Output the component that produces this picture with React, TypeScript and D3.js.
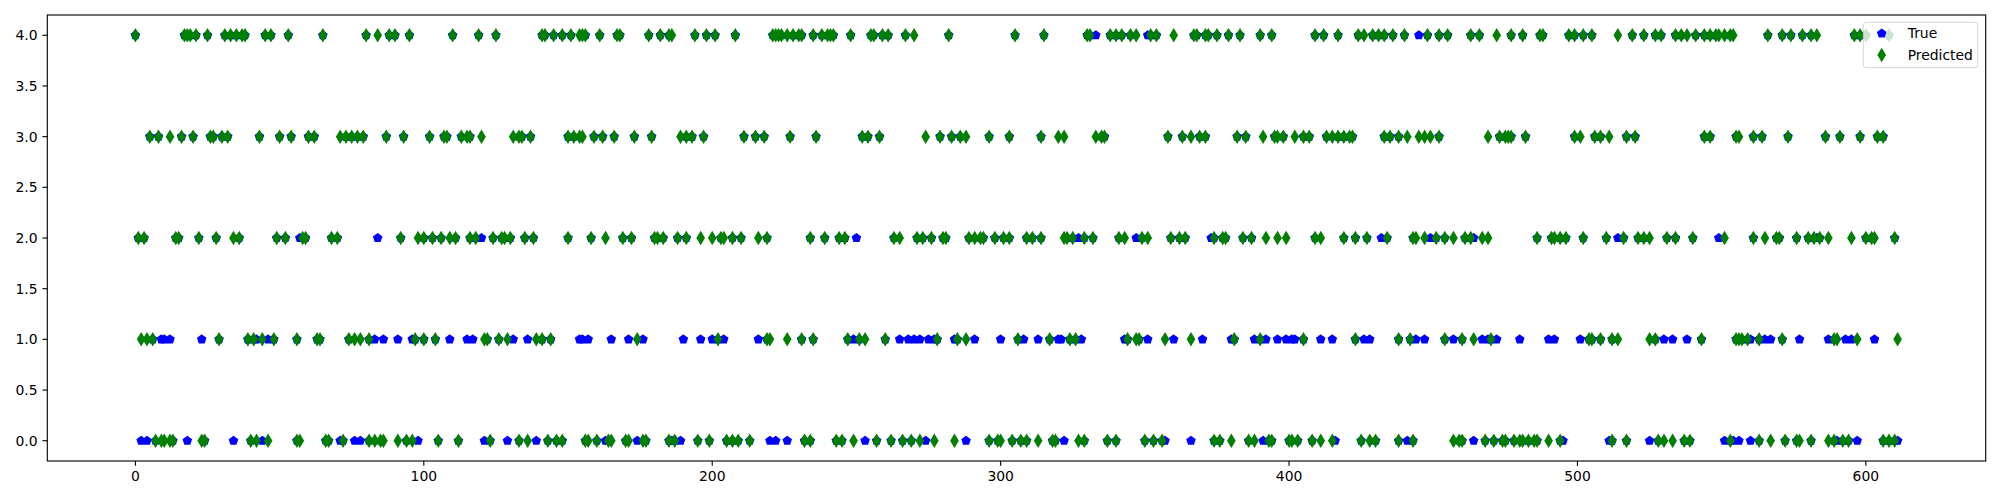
import * as d3 from "d3";

// sample indices where the model predicted each class (green diamonds)
const predClass4 = [
  0, 17, 18, 19, 21, 25, 31, 33, 35, 37, 38, 45, 47, 53, 65,
  80, 84, 88, 90, 95, 110, 119, 125, 141, 142, 145, 148, 151, 154, 156,
  155, 161, 167, 168, 178, 182, 185, 186, 194, 198, 201, 208, 221, 222, 223, 224, 226, 228, 230, 231, 235,
  238, 240, 241, 242, 248, 255, 256, 259, 261, 267, 270, 282, 305, 315,
  330, 331, 338, 340, 342, 345, 347, 352, 354, 360, 367, 368, 371, 372, 375, 379, 383, 390, 394,
  409, 412, 417, 424, 426, 429, 431, 433, 436, 440, 448, 452, 455, 463, 466, 472,
  477, 481, 487, 488, 497, 499, 502, 505, 514, 519, 523, 527, 529, 534, 536, 538, 541, 544, 546, 548, 549, 551, 553,
  554, 566, 571, 574, 578, 581, 583, 596, 598, 600, 608,
];
const predClass3 = [
  5, 8, 12, 16, 20, 26, 27, 30, 32, 43, 50, 54, 60, 62, 71, 73, 75,
  77, 79, 87, 93, 102, 107, 108, 113, 115, 116, 120, 131, 133, 134, 137, 150, 152, 154,
  155, 159, 162, 166, 173, 179, 189, 191, 193, 197, 211, 215, 218, 227, 236,
  252, 254, 258, 274, 279, 283, 286, 288, 296, 303, 314,
  320, 322, 333, 335, 336, 358, 363, 366, 369, 371, 382, 385, 391, 395,
  396, 398, 402, 405, 407, 413, 415, 417, 419, 421, 422, 433, 435, 438, 441, 445, 447, 449, 452, 469, 473, 475,
  476, 477, 482, 499, 501, 506, 508, 511, 517, 520, 544, 546, 555,
  556, 561, 564, 573, 586, 591, 598, 604, 606,
];
const predClass2 = [
  1, 3, 14, 15, 22, 28, 34, 36, 49, 52, 58, 59, 68, 70,
  92, 98, 100, 103, 106, 109, 111, 116, 118, 124, 127, 128, 130, 135, 138, 150,
  158, 163, 169, 172, 180, 181, 183, 188, 191, 196, 200, 203, 204, 207, 210, 216, 219, 234,
  239, 244, 246, 263, 265, 271, 273, 276, 280, 281, 289, 291, 293, 294, 298, 301, 303, 309, 311, 314,
  322, 323, 325, 329, 332, 341, 343, 349, 351, 359, 362, 364, 374, 377, 378, 384, 387, 392, 396,
  399, 409, 411, 419, 423, 427, 434, 443, 444, 447, 451, 454, 457, 461, 463, 467, 469,
  486, 491, 492, 494, 496, 502, 510, 516, 521, 523, 525, 531, 534, 540, 551,
  561, 565, 569, 570, 576, 580, 582, 584, 587, 595, 600, 602, 603, 610,
];
const predClass1 = [
  2, 4, 6, 29, 39, 41, 44, 48, 56, 63, 64, 74,
  76, 78, 81, 97, 100, 104, 121, 122, 126, 129, 139, 141, 144,
  174, 202, 219, 220, 226, 231, 235,
  247, 251, 253, 260, 278, 285, 288, 306,
  317, 324, 326, 344, 347, 348, 357, 366, 381, 390,
  405, 423, 438, 442, 454, 460, 464, 470,
  504, 505, 508, 512, 514, 525, 527, 543, 555,
  556, 557, 559, 563, 571, 589, 590, 597, 611,
];
const predClass0 = [
  7, 9, 10, 12, 13, 23, 24, 40, 42, 46, 56, 57, 66, 67, 72,
  81, 83, 85, 86, 91, 94, 96, 105, 112, 123, 133, 136, 143, 146, 148, 156,
  157, 160, 164, 165, 170, 171, 176, 177, 185, 187, 195, 199, 205, 207, 209, 213, 232, 234,
  243, 245, 249, 257, 262, 266, 269, 272, 277, 284, 296, 299, 300, 304, 307, 309, 313,
  318, 319, 327, 329, 337, 340, 350, 353, 356, 374, 376, 380, 386, 388, 393,
  394, 400, 401, 403, 408, 411, 415, 425, 428, 430, 438, 443, 457, 459, 460, 468, 471, 474,
  475, 478, 480, 481, 483, 485, 486, 490, 494, 512, 517, 528, 530, 533, 537, 539, 553,
  563, 567, 572, 576, 577, 581, 587, 589, 592, 594, 606, 608, 610,
];

// sample indices whose true class differs from the prediction (visible blue pentagons)
const missTrue4 = [333, 351, 445];
const missTrue3: number[] = [];
const missTrue2 = [57, 84, 120, 250, 327, 347, 373, 432, 449, 464, 514, 549, 583];
const missTrue1 = [
  9, 10, 12, 23, 42, 46, 83, 86, 91, 96, 109, 115, 117, 131, 136, 154,
  155, 157, 165, 171, 176, 190, 196, 200, 204, 216,
  249, 265, 268, 270, 272, 275, 277, 284, 291, 300, 308, 313,
  320, 321, 328, 343, 351, 360, 370, 380, 388, 392, 396,
  399, 401, 402, 411, 415, 426, 428, 444, 447, 457, 467, 469, 472,
  480, 490, 492, 501, 530, 533, 538, 560, 565, 567, 577, 587, 593, 595, 603,
];
const missTrue0 = [
  2, 4, 18, 34, 44, 71, 76, 78, 98, 121, 129, 139, 163, 174, 186, 189, 220, 222, 226,
  253, 274, 288, 322, 357, 366, 391, 416, 441, 464, 495, 511, 525, 551, 554, 556, 560, 590, 597, 611,
];

const yTicks = [0, 0.5, 1, 1.5, 2, 2.5, 3, 3.5, 4];
const xTicks = [0, 100, 200, 300, 400, 500, 600];

const predByClass = [predClass0, predClass1, predClass2, predClass3, predClass4];
const missByClass = [missTrue0, missTrue1, missTrue2, missTrue3, missTrue4];

const W = 2000;
const H = 500;
const plot = { left: 47.3, right: 1985.7, top: 15, bottom: 461 };

const x = d3.scaleLinear().domain([-30.55, 641.55]).range([plot.left, plot.right]);
const y = d3.scaleLinear().domain([-0.2, 4.2]).range([plot.bottom, plot.top]);

const predicted = predByClass.flatMap((idx, c) => idx.map((i) => ({ i, c })));
const missSet = new Set(missByClass.flat());
const truth = [
  ...predicted.filter((d) => !missSet.has(d.i)),
  ...missByClass.flatMap((idx, c) => idx.map((i) => ({ i, c }))),
].sort((a, b) => a.i - b.i);

// marker shapes (matplotlib 'p' and 'd' at markersize 6, dpi 100)
const R = 4.17;
const pentagon =
  d3.range(5)
    .map((k) => {
      const a = -Math.PI / 2 + (k * 2 * Math.PI) / 5;
      return `${k ? "L" : "M"}${(R * Math.cos(a)).toFixed(2)},${(R * Math.sin(a)).toFixed(2)}`;
    })
    .join("") + "Z";
const dh = 5.89;
const dw = 3.54;
const diamond = `M0,${-dh}L${dw},0L0,${dh}L${-dw},0Z`;

const BLUE = "#0000ff";
const GREEN = "#008000";
const font = "'DejaVu Sans', sans-serif";
const tickLen = 4.86;

function App() {
  return (
    <>
      <style>{`body{margin:0}`}</style>
      <svg width={W} height={H} style={{ display: "block", background: "#fff" }}>
        <rect width={W} height={H} fill="#fff" />
        <g>
          {truth.map((d, k) => (
            <path
              key={"t" + k}
              d={pentagon}
              transform={`translate(${x(d.i)},${y(d.c)})`}
              fill={BLUE}
              stroke={BLUE}
              strokeWidth={1.39}
              strokeLinejoin="miter"
            />
          ))}
          {predicted.map((d, k) => (
            <path
              key={"p" + k}
              d={diamond}
              transform={`translate(${x(d.i)},${y(d.c)})`}
              fill={GREEN}
              stroke={GREEN}
              strokeWidth={1.39}
              strokeLinejoin="miter"
            />
          ))}
        </g>

        {/* axes frame */}
        <rect
          x={plot.left}
          y={plot.top}
          width={plot.right - plot.left}
          height={plot.bottom - plot.top}
          fill="none"
          stroke="#000"
          strokeWidth={1.11}
        />

        {/* x axis */}
        {xTicks.map((t) => (
          <g key={"x" + t} transform={`translate(${x(t)},${plot.bottom})`}>
            <line y2={tickLen} stroke="#000" strokeWidth={1.11} />
            <text y={tickLen + 4.86 + 10.6} textAnchor="middle" fontFamily={font} fontSize={13.9} fill="#000">
              {t}
            </text>
          </g>
        ))}

        {/* y axis */}
        {yTicks.map((t) => (
          <g key={"y" + t} transform={`translate(${plot.left},${y(t)})`}>
            <line x2={-tickLen} stroke="#000" strokeWidth={1.11} />
            <text
              x={-tickLen - 4.86}
              dy="0.35em"
              textAnchor="end"
              fontFamily={font}
              fontSize={13.9}
              fill="#000"
            >
              {t.toFixed(1)}
            </text>
          </g>
        ))}

        {/* legend */}
        <g>
          <rect
            x={1863.3}
            y={22.3}
            width={114.4}
            height={45.4}
            rx={2.8}
            fill="#fff"
            fillOpacity={0.8}
            stroke="#cccccc"
            strokeOpacity={0.8}
            strokeWidth={1}
          />
          <path d={pentagon} transform="translate(1881.7,33.5)" fill={BLUE} stroke={BLUE} strokeWidth={1.39} />
          <text x={1907.7} y={33.5} dy="0.35em" fontFamily={font} fontSize={13.9} fill="#000">
            True
          </text>
          <path d={diamond} transform="translate(1881.7,55)" fill={GREEN} stroke={GREEN} strokeWidth={1.39} />
          <text x={1907.7} y={55} dy="0.35em" fontFamily={font} fontSize={13.9} fill="#000">
            Predicted
          </text>
        </g>
      </svg>
    </>
  );
}

export default App;
